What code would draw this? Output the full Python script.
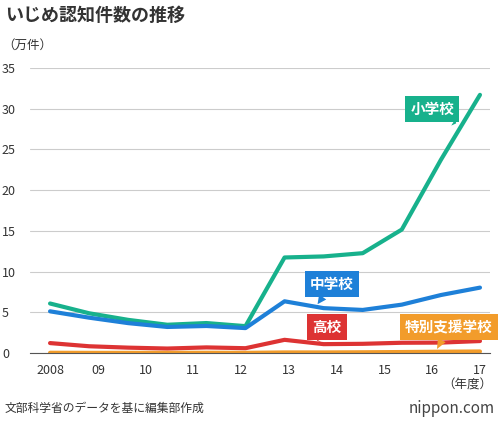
import numpy as np, pandas as pd, matplotlib
matplotlib.use("Agg")
import matplotlib.pyplot as plt, seaborn as sns

sns.set_style("white")
plt.rcParams['font.family'] = ['Noto Sans CJK JP', 'DejaVu Sans']

years = list(range(2006, 2018))
elementary = [6.09, 4.89, 4.08, 3.48, 3.69, 3.31, 11.74, 11.87, 12.27, 15.17, 23.73, 31.71]
junior = [5.13, 4.35, 3.68, 3.21, 3.33, 3.07, 6.36, 5.52, 5.30, 5.95, 7.13, 8.04]
high = [1.23, 0.84, 0.67, 0.56, 0.70, 0.60, 1.63, 1.10, 1.14, 1.27, 1.29, 1.48]
special = [0.04, 0.03, 0.03, 0.03, 0.04, 0.03, 0.08, 0.08, 0.10, 0.13, 0.17, 0.20]
tick_labels = ["2008", "09", "10", "11", "12", "13", "14", "15", "16", "17"]
names = ["小学校", "中学校", "高校", "特別支援学校"]
colors = ["#17b18c", "#1e80d8", "#dd3333", "#f29c2b"]

xpos = np.linspace(0, 9, len(years))
rows = []
for n, vals in zip(names, [elementary, junior, high, special]):
    for x, v in zip(xpos, vals):
        rows.append(dict(x=x, v=v, s=n))
df = pd.DataFrame(rows)

fig = plt.figure(figsize=(5, 4.28), dpi=100)
ax = fig.add_axes([0.06, 0.175, 0.92, 0.666])
sns.lineplot(data=df, x="x", y="v", hue="s", palette=colors, linewidth=3, legend=False, ax=ax)
ax.set_xlim(-0.42, 9.21)
ax.set_ylim(0, 35)
ax.set_yticks(range(0, 36, 5))
ax.set_xticks(range(10))
ax.set_xticklabels(tick_labels)
ax.grid(axis='y', color='#cccccc', lw=0.8)
for s in ['left', 'right', 'top']:
    ax.spines[s].set_visible(False)
ax.spines['bottom'].set_color('#555555')
ax.tick_params(length=0, labelsize=9, colors='#333333')
ax.tick_params(axis='x', pad=8)
ax.tick_params(axis='y', pad=2)
for t in ax.get_yticklabels():
    t.set_ha('left'); t.set_x(-0.055)
ax.set_xlabel(""); ax.set_ylabel("")

def lab(text, xy, xytext, c):
    ax.annotate(text, xy=xy, xytext=xytext, color='white', fontsize=10.5, fontweight='bold',
                ha='center', va='center',
                bbox=dict(boxstyle='square,pad=0.35', fc=c, ec='none'),
                arrowprops=dict(arrowstyle='wedge,tail_width=0.6', color=c, lw=0, shrinkA=0, shrinkB=0))
lab("小学校", (8.5, 28.2), (8.0, 30.0), colors[0])
lab("中学校", (5.6, 6.0), (5.9, 8.5), colors[1])
lab("高校", (5.6, 1.5), (5.8, 3.2), colors[2])
lab("特別支援学校", (8.1, 0.5), (8.35, 3.2), colors[3])

fig.text(0.01, 0.965, "いじめ認知件数の推移", fontsize=13, fontweight='bold', color='#333333', va='center')
fig.text(0.005, 0.895, "（万件）", fontsize=9, color='#333333', va='center')
fig.text(0.985, 0.1, "（年度）", fontsize=9, color='#333333', ha='right', va='center')
fig.text(0.01, 0.045, "文部科学省のデータを基に編集部作成", fontsize=8.5, color='#333333', va='center')
fig.text(0.99, 0.045, "nippon.com", fontsize=11, color='#444444', ha='right', va='center')
fig.savefig("out.png", dpi=100)
